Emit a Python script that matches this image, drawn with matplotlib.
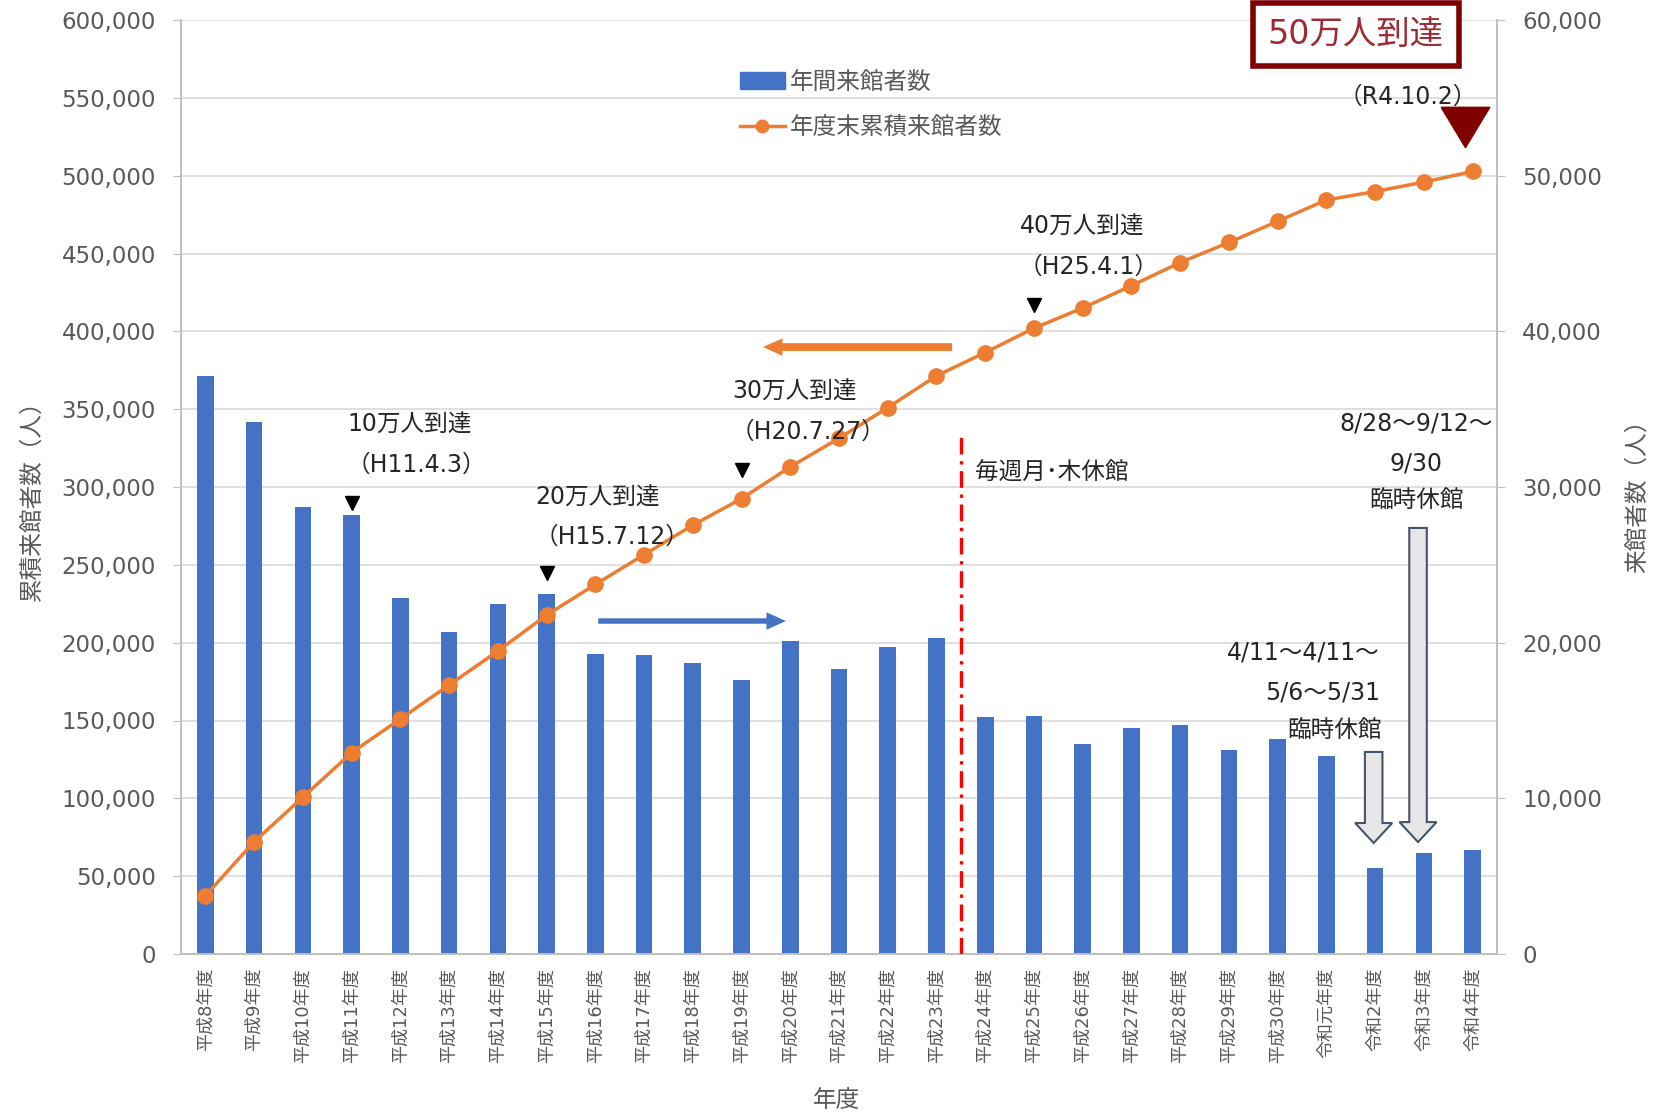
import numpy as np
import matplotlib.pyplot as plt
from matplotlib.patches import FancyArrow, Patch
from matplotlib.lines import Line2D
from matplotlib.ticker import FuncFormatter, MultipleLocator

plt.rcParams['font.family'] = ['DejaVu Sans', 'Noto Sans CJK JP']

# --- data ---
years = ['平成8年度', '平成9年度', '平成10年度', '平成11年度', '平成12年度', '平成13年度',
         '平成14年度', '平成15年度', '平成16年度', '平成17年度', '平成18年度', '平成19年度',
         '平成20年度', '平成21年度', '平成22年度', '平成23年度', '平成24年度', '平成25年度',
         '平成26年度', '平成27年度', '平成28年度', '平成29年度', '平成30年度', '令和元年度',
         '令和2年度', '令和3年度', '令和4年度']
annual = [37100, 34200, 28700, 28200, 22900, 20700, 22500, 23100, 19300, 19200,
          18700, 17600, 20100, 18300, 19700, 20300, 15200, 15300, 13500, 14500,
          14700, 13100, 13800, 12700, 5500, 6500, 6700]
cumulative = [37400, 72100, 100700, 129300, 151000, 172800, 194600, 217700, 237400,
              256500, 275500, 292500, 312900, 331300, 351000, 371400, 386400, 402000,
              415000, 429300, 444200, 457100, 470700, 484400, 489800, 495900, 502700]

milestone_labels = ['10万人到達', '20万人到達', '30万人到達', '40万人到達']
milestone_dates = ['（H11.4.3）', '（H15.7.12）', '（H20.7.27）', '（H25.4.1）']
milestone_idx = [3, 7, 11, 17]
milestone_mark_y = [289700, 244800, 310900, 416900]
label_x = [4.2, 8.05, 12.08, 17.98]
label_y = [339800, 292900, 361000, 467000]
date_x = [4.32, 8.34, 12.36, 18.13]
date_y = [314100, 267900, 335300, 441300]

gray = '#595959'
dark = '#262626'
blue = '#4472C4'
orange = '#ED7D31'
W, H = 1659, 1118

fig = plt.figure(figsize=(W / 100, H / 100), dpi=100)
ax = fig.add_axes([181 / W, 1 - 954 / H, (1497 - 181) / W, (954 - 20) / H])
ax2 = ax.twinx()

x = np.arange(len(years))

# bars (right axis)
ax.bar(x, annual, width=0.34, color=blue, zorder=2)
ax.set_xlim(-0.5, len(years) - 0.5)
ax.set_ylim(0, 60000)
ax.yaxis.tick_right()
ax.yaxis.set_major_locator(MultipleLocator(10000))
ax.yaxis.set_minor_locator(MultipleLocator(5000))
ax.yaxis.set_major_formatter(FuncFormatter(lambda v, p: f'{int(v):,}'))
ax.grid(axis='y', which='both', color='#D9D9D9', lw=1.2, zorder=0)
ax.set_axisbelow(True)
ax.tick_params(axis='y', which='minor', length=0)
ax.tick_params(axis='y', which='major', length=6, color='#BFBFBF', labelsize=16.5,
               labelcolor=gray, pad=12)
ax.set_xticks(x, years, rotation=90, fontsize=13, color=gray)
ax.tick_params(axis='x', length=0, pad=10)

# cumulative line (left axis)
ax2.plot(x, cumulative, color=orange, lw=2.5, marker='o', ms=11, zorder=3)
ax2.set_ylim(0, 600000)
ax2.yaxis.tick_left()
ax2.yaxis.set_major_locator(MultipleLocator(50000))
ax2.yaxis.set_major_formatter(FuncFormatter(lambda v, p: f'{int(v):,}'))
ax2.tick_params(axis='y', length=6, color='#BFBFBF', labelsize=16.5, labelcolor=gray, pad=12)

for a in (ax, ax2):
    a.spines['top'].set_visible(False)
    for s in ('left', 'right', 'bottom'):
        a.spines[s].set_color('#BFBFBF')
        a.spines[s].set_linewidth(1.2)

fig.text(32 / W, 1 - 495 / H, '累積来館者数（人）', rotation=90, ha='center', va='center',
         fontsize=17, color=gray)
fig.text(1637 / W, 1 - 490 / H, '来館者数（人）', rotation=90, ha='center', va='center',
         fontsize=17, color=gray)
fig.text(836 / W, 1 - 1100 / H, '年度', ha='center', va='center', fontsize=17, color=gray)

# milestones
ax2.plot(milestone_idx, milestone_mark_y, 'v', color='black', ms=10, ls='none', zorder=4)
for i in range(len(milestone_labels)):
    ax2.text(label_x[i], label_y[i], milestone_labels[i], ha='center', va='center',
             fontsize=17, color=dark)
    ax2.text(date_x[i], date_y[i], milestone_dates[i], ha='center', va='center',
             fontsize=17, color=dark)

ax2.text(23.6, 590500, '50万人到達', ha='center', va='center', fontsize=24, color='#9E2B33',
         bbox=dict(boxstyle='square,pad=0.45', fc='white', ec='#7F0000', lw=4), zorder=5)
ax2.text(24.66, 550500, '（R4.10.2）', ha='center', va='center', fontsize=17, color=dark)
tri = [(-1, 0.83), (1, 0.83), (0, -0.83), (-1, 0.83)]
ax2.plot([25.85], [531000], marker=tri, ms=35, color='#800000', ls='none', zorder=5)

# closing day boundary
ax2.plot([15.5, 15.5], [0, 334000], color='red', lw=2.4, ls=(0, (5, 2, 1, 2)), zorder=4)
ax2.text(15.79, 309000, '毎週月･木休館', ha='left', va='center', fontsize=17, color=dark)

# axis pointer arrows
ax2.annotate('', xy=(11.44, 389900), xytext=(15.32, 389900),
             arrowprops=dict(arrowstyle='simple,head_length=0.5,head_width=0.45,tail_width=0.2',
                             fc=orange, ec='none', mutation_scale=28, shrinkA=0, shrinkB=0))
ax2.annotate('', xy=(11.91, 213900), xytext=(8.06, 213900),
             arrowprops=dict(arrowstyle='simple,head_length=0.5,head_width=0.45,tail_width=0.14',
                             fc=blue, ec='none', mutation_scale=28, shrinkA=0, shrinkB=0))

# temporary closure notes
ax2.text(24.84, 341100, '8/28～9/12～', ha='center', va='center', fontsize=17, color=dark)
ax2.text(24.84, 315400, '9/30', ha='center', va='center', fontsize=17, color=dark)
ax2.text(24.84, 291600, '臨時休館', ha='center', va='center', fontsize=17, color=dark)
ax2.text(24.1, 194000, '4/11～4/11～', ha='right', va='center', fontsize=17, color=dark)
ax2.text(24.1, 168300, '5/6～5/31', ha='right', va='center', fontsize=17, color=dark)
ax2.text(24.14, 143900, '臨時休館', ha='right', va='center', fontsize=17, color=dark)

closure_x = [23.97, 24.88]
closure_top = [129800, 273700]
closure_tip = [71300, 71900]
for cx, top, tip in zip(closure_x, closure_top, closure_tip):
    ax2.add_patch(FancyArrow(cx, top, 0, tip - top, width=0.36, head_width=0.76,
                             head_length=12850, length_includes_head=True,
                             fc='#E7E6E6', ec='#44546A', lw=1.5, zorder=4))

# legend
handles = [Patch(color=blue), Line2D([], [], color=orange, lw=2.5, marker='o', ms=9)]
fig.legend(handles, ['年間来館者数', '年度末累積来館者数'], loc='upper left',
           bbox_to_anchor=(740 / W, 1 - 70 / H), frameon=False, fontsize=17,
           handlelength=1.9, handletextpad=0.2, labelspacing=0.9, borderpad=0,
           borderaxespad=0, labelcolor=gray)

fig.savefig('out.png', dpi=100)
